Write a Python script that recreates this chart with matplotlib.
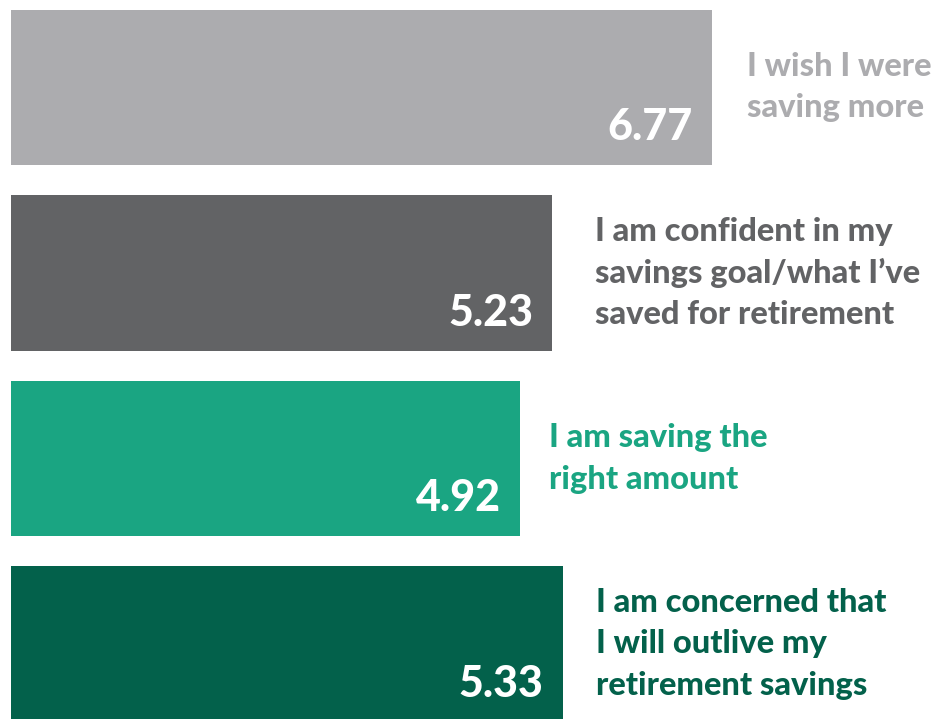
import matplotlib
matplotlib.use("Agg")
import matplotlib.pyplot as plt

plt.rcParams["font.family"] = ["Lato", "DejaVu Sans"]

labels = [
    "I wish I were\nsaving more",
    "I am confident in my\nsavings goal/what I\u2019ve\nsaved for retirement",
    "I am saving the\nright amount",
    "I am concerned that\nI will outlive my\nretirement savings",
]
values = [6.77, 5.23, 4.92, 5.33]
colors = ["#ACACAF", "#626365", "#1AA582", "#03614B"]
label_offsets = [35, 43, 29, 33]  # px right of bar end

fig = plt.figure(figsize=(9.52, 7.19), dpi=100)
ax = fig.add_axes([0, 0, 1, 1])

ypos = list(range(len(values)))
ax.barh(ypos, values, height=0.84, color=colors)

ax.set_xlim(-11 / 103.5, (952 - 11) / 103.5)
ax.set_ylim((719 - 87.5) / 185.5, -87.5 / 185.5)
ax.axis("off")

for y, v, lab, c, off in zip(ypos, values, labels, colors, label_offsets):
    ax.annotate(f"{v:.2f}", xy=(v, y + 0.42), xytext=(-19, 25),
                textcoords="offset pixels", ha="right", va="baseline",
                color="white", fontsize=31, fontweight="black",
                annotation_clip=False)
    ax.annotate(lab, xy=(v, y), xytext=(off, 0), textcoords="offset pixels",
                ha="left", va="center", color=c, fontsize=23.5,
                fontweight="black", linespacing=1.5)

fig.savefig("out.png", dpi=100)
